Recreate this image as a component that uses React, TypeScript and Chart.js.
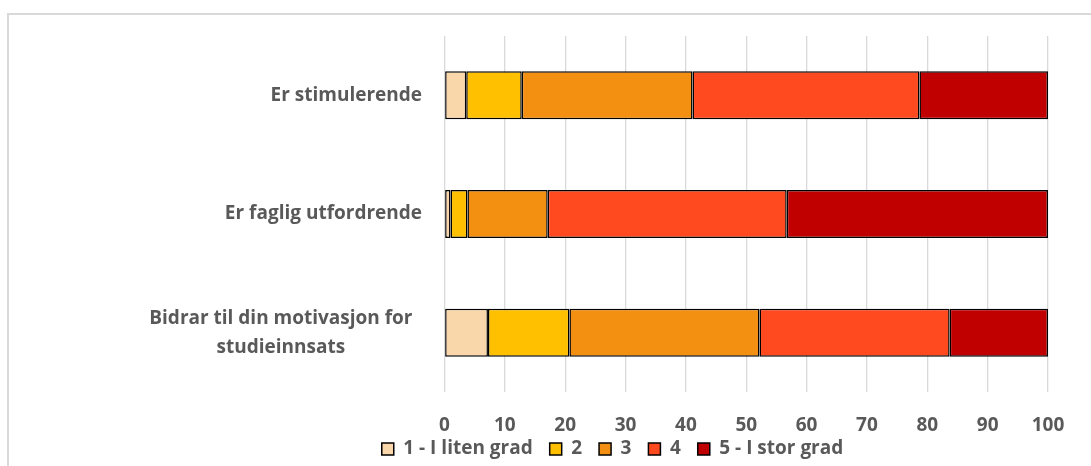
import React, { useEffect, useRef } from "react";
import { Chart, registerables } from "chart.js";

Chart.register(...registerables);

const categories: string[][] = [
  ["Er stimulerende"],
  ["Er faglig utfordrende"],
  ["Bidrar til din motivasjon for", "studieinnsats"],
];
const seriesNames = ["1 - I liten grad", "2", "3", "4", "5 - I stor grad"];
const s1 = [3.6, 1.0, 7.2];
const s2 = [9.2, 2.8, 13.5];
const s3 = [28.3, 13.3, 31.5];
const s4 = [37.6, 39.6, 31.5];
const s5 = [21.3, 43.3, 16.3];
const seriesColors = ["#F9D7AB", "#FFC000", "#F39012", "#FF4A20", "#C00000"];
const xTicks = [0, 10, 20, 30, 40, 50, 60, 70, 80, 90, 100];

const FONT = "'Open Sans', 'Noto Sans', sans-serif";
const FSIZE = 19;
const TEXT = "#595959";

const labelPlugin = {
  id: "axisLabels",
  afterDraw(chart: any) {
    const ctx = chart.ctx;
    const yScale = chart.scales.y;
    const xScale = chart.scales.x;
    const { left, bottom } = chart.chartArea;
    ctx.save();
    ctx.font = `bold ${FSIZE}px ${FONT}`;
    ctx.fillStyle = TEXT;
    ctx.textBaseline = "middle";
    categories.forEach((lines, i) => {
      const cy = yScale.getPixelForValue(i);
      const widths = lines.map((l) => ctx.measureText(l).width);
      const maxW = Math.max(...widths);
      const right = lines.length > 1 ? left - 32 : left - 22.5;
      const cx = right - maxW / 2;
      const lh = 29;
      lines.forEach((l, j) => {
        ctx.textAlign = "center";
        ctx.fillText(l, cx, cy + (j - (lines.length - 1) / 2) * lh);
      });
    });
    ctx.textAlign = "center";
    xTicks.forEach((v) => {
      ctx.fillText(String(v), xScale.getPixelForValue(v), bottom + 34);
    });
    ctx.restore();
  },
};

export default function App() {
  const ref = useRef<HTMLCanvasElement>(null);
  useEffect(() => {
    if (!ref.current) return;
    const data = [s1, s2, s3, s4, s5];
    const chart = new Chart(ref.current, {
      type: "bar",
      data: {
        labels: categories.map((c) => c.join(" ")),
        datasets: seriesNames.map((name, i) => ({
          label: name,
          data: data[i],
          backgroundColor: seriesColors[i],
          borderColor: "#000000",
          borderWidth: 1.5,
          borderSkipped: false,
          barPercentage: 1,
          categoryPercentage: 0.404,
        })),
      },
      options: {
        indexAxis: "y",
        animation: false,
        responsive: false,
        maintainAspectRatio: false,
        layout: { padding: { left: 177, right: 43, top: 36, bottom: -2.5 } },
        scales: {
          x: {
            stacked: true,
            min: 0,
            max: 100,
            afterBuildTicks: (scale: any) => {
              scale.ticks = xTicks.map((v) => ({ value: v }));
            },
            afterFit: (scale: any) => {
              scale.height = 30.5;
            },
            grid: { color: "#d9d9d9", lineWidth: 1.3, drawTicks: false },
            border: { display: false },
            ticks: { display: false },
          },
          y: {
            stacked: true,
            grid: { display: false },
            border: { display: false },
            ticks: { display: false },
            afterFit: (scale: any) => {
              scale.width = 267.5;
            },
          },
        },
        plugins: {
          legend: {
            position: "bottom",
            labels: {
              boxWidth: 12,
              boxHeight: 12,
              padding: 17,
              color: TEXT,
              font: { family: FONT, size: FSIZE, weight: "bold" },
            },
          },
          tooltip: { enabled: false },
        },
      },
      plugins: [labelPlugin],
    } as any);
    return () => chart.destroy();
  }, []);

  return (
    <div
      style={{
        position: "absolute",
        left: 0,
        top: 0,
        width: 1091,
        height: 466,
        overflow: "hidden",
        background: "#ffffff",
      }}
    >
      <div
        style={{
          position: "absolute",
          left: 7,
          top: 13,
          width: 1300,
          height: 700,
          border: "2px solid #d9d9d9",
          boxSizing: "border-box",
        }}
      />
      <canvas
        ref={ref}
        width={1091}
        height={466}
        style={{ position: "absolute", left: 0, top: 0, width: 1091, height: 466 }}
      />
    </div>
  );
}
